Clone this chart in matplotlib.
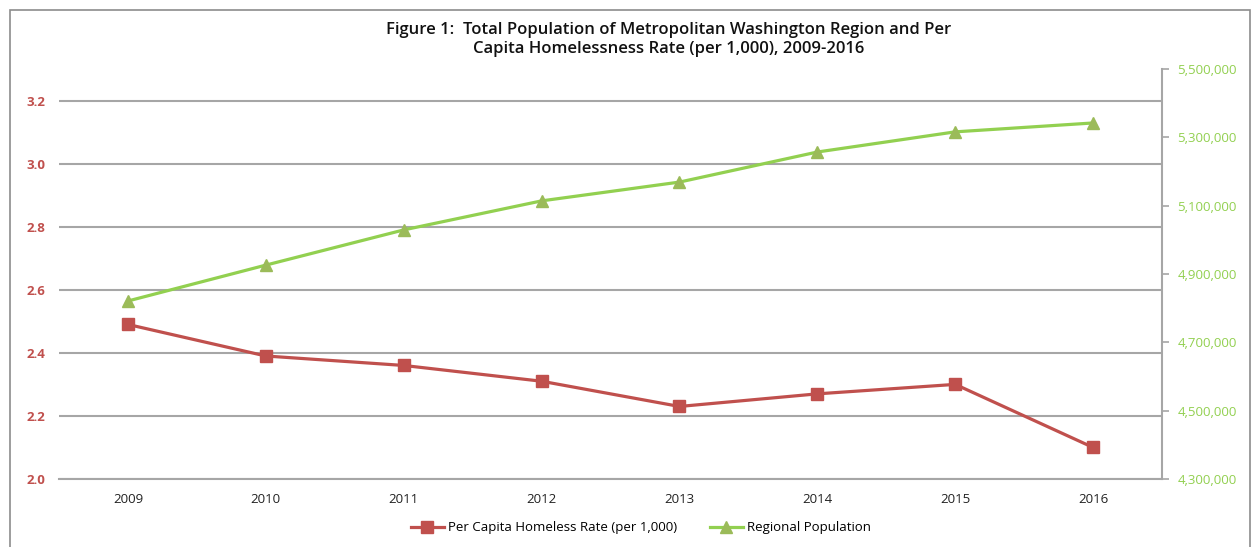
import matplotlib.pyplot as plt
from matplotlib.patches import Rectangle
from matplotlib.ticker import FuncFormatter

plt.rcParams['font.family'] = ['Open Sans', 'DejaVu Sans']

years = ['2009', '2010', '2011', '2012', '2013', '2014', '2015', '2016']
homeless_rate = [2.49, 2.39, 2.36, 2.31, 2.23, 2.27, 2.30, 2.10]
population = [4821000, 4926000, 5029000, 5114000, 5169000, 5257000, 5316000, 5342000]

red = '#C0504D'
green_line = '#92D050'
green_marker = '#9BBB59'
grid_grey = '#A6A6A6'

fig = plt.figure(figsize=(12.56, 5.47), dpi=100)
ax = fig.add_axes([0.047, 0.1243, 0.8782, 0.7496])
ax2 = ax.twinx()

x = list(range(len(years)))

line1, = ax.plot(x, homeless_rate, color=red, lw=2.3, marker='s', markersize=8.5,
                 markerfacecolor=red, markeredgecolor=red, zorder=3,
                 label='Per Capita Homeless Rate (per 1,000)')
line2, = ax2.plot(x, population, color=green_line, lw=2.3, marker='^', markersize=8,
                  markerfacecolor=green_marker, markeredgecolor=green_marker, zorder=3,
                  label='Regional Population')

# left axis
ax.set_xlim(-0.5, len(years) - 0.5)
ax.set_ylim(2.0, 3.3)
ax.set_yticks([2.0, 2.2, 2.4, 2.6, 2.8, 3.0, 3.2])
ax.yaxis.set_major_formatter(FuncFormatter(lambda v, p: f'{v:.1f}'))
ax.grid(axis='y', color=grid_grey, lw=1.5)
ax.set_axisbelow(True)
ax.set_xticks(x)
ax.set_xticklabels(years)
ax.tick_params(axis='x', length=0, pad=10, labelsize=9.5, labelcolor='#222222')
ax.tick_params(axis='y', length=0, pad=10, labelsize=9.5, labelcolor=red)
for t in ax.get_yticklabels():
    t.set_fontweight('bold')

# right axis
ax2.set_ylim(4300000, 5500000)
ax2.set_yticks(range(4300000, 5500001, 200000))
ax2.yaxis.set_major_formatter(FuncFormatter(lambda v, p: f'{int(v):,}'))
ax2.tick_params(axis='y', length=5, width=1.2, color=grid_grey, pad=6,
                labelsize=9.5, labelcolor=green_line)

for a in (ax, ax2):
    for s in ('top', 'left', 'right', 'bottom'):
        a.spines[s].set_visible(False)
ax2.spines['right'].set_visible(True)
ax2.spines['right'].set_color(grid_grey)
ax2.spines['right'].set_linewidth(1.5)
ax.spines['bottom'].set_visible(True)
ax.spines['bottom'].set_color(grid_grey)
ax.spines['bottom'].set_linewidth(1.5)

fig.text(0.532, 0.928,
         'Figure 1:  Total Population of Metropolitan Washington Region and Per\n'
         'Capita Homelessness Rate (per 1,000), 2009-2016',
         ha='center', va='center', fontsize=12, fontweight='semibold',
         color='#111111', linespacing=1.25)

fig.legend(handles=[line1, line2], loc='center', bbox_to_anchor=(0.51, 0.035),
           ncol=2, frameon=False, fontsize=9.5, handlelength=2.5,
           columnspacing=2.5, handletextpad=0.3)

fig.patches.append(Rectangle((10 / 1256, -0.05), 1240 / 1256, 1 - 10 / 547 + 0.05,
                             transform=fig.transFigure, fill=False,
                             edgecolor='#8C8C8C', lw=1.2))

fig.savefig('out.png', dpi=100)
